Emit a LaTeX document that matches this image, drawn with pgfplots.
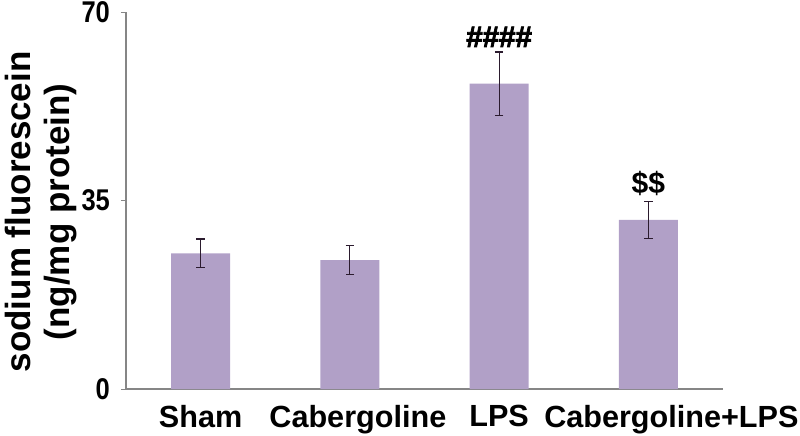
\documentclass[border=0pt]{standalone}
\usepackage{fontspec}
\setmainfont{Liberation Sans}
\newfontfamily\tallfont[FakeStretch=0.85]{Liberation Sans}
\newfontfamily\heavyfont[FakeBold=2.5]{Liberation Sans Bold}
\usepackage{pgfplots}
\pgfplotsset{compat=1.18}
\definecolor{barfill}{HTML}{B1A0C7}
\definecolor{axisgray}{HTML}{868686}
\definecolor{errcol}{HTML}{2B1B2E}

\begin{document}
\begin{tikzpicture}
\begin{axis}[
    scale only axis,
    width=298.5pt, height=188.5pt,
    xmin=-0.5, xmax=3.5,
    ymin=0, ymax=70,
    ytick={0,35,70},
    xtick={0,1,2,3},
    xticklabels={Sham,\hspace{8pt}Cabergoline,LPS,\hspace{23pt}Cabergoline+LPS},
    major x tick style={draw=none},
    extra x ticks={0.5,1.5,2.5,3.5},
    extra x tick labels={},
    extra x tick style={tick align=outside, major tick length=3pt, tick style={axisgray}},
    y tick style={axisgray},
    tick align=outside,
    major tick length=2.5pt,
    axis x line*=bottom,
    axis y line*=left,
    axis line style={axisgray, line width=0.6pt},
    ticklabel style={font=\fontsize{15.3}{17}\selectfont\bfseries},
    xticklabel style={yshift=-2pt},
    yticklabel style={font=\tallfont\fontsize{15}{17}\selectfont\bfseries, xshift=-2pt},
    /pgf/number format/assume math mode=true,
    ylabel={sodium fluorescein\\(ng/mg protein)},
    ylabel style={at={(rel axis cs:-0.142,0.47)}, anchor=center, align=center,
        font=\fontsize{17.5}{19.5}\selectfont\bfseries},
    clip=false,
]
\addplot[ybar, bar width=0.395, fill=barfill, draw=none,
    error bars/.cd, y dir=both, y explicit,
    error bar style={errcol, line width=0.6pt},
    error mark options={rotate=90, mark size=2.1pt, errcol, line width=0.6pt}]
    coordinates {
    (0,25.2) +- (0,2.65)
    (1,23.95) +- (0,2.7)
    (2,56.7) +- (0,5.9)
    (3,31.4) +- (0,3.45)
};
\node[font=\heavyfont\fontsize{14.8}{17}\selectfont] at (axis cs:2,65.4) {\#\#\#\#};
\node[font=\fontsize{15}{17}\selectfont\bfseries] at (axis cs:3,38.2) {\$\$};
\coordinate (bl) at (rel axis cs:-0.211,-0.122);
\coordinate (tr) at (rel axis cs:1.129,1.032);
\end{axis}
\pgfresetboundingbox
\path[use as bounding box] (bl) rectangle (tr);
\end{tikzpicture}
\end{document}
